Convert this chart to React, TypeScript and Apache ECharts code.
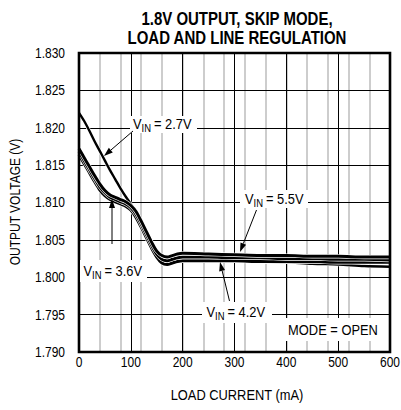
import React, { useEffect, useRef } from "react";
import * as echarts from "echarts";

const loadCurrent = [0, 10, 20, 30, 40, 50, 60, 70, 80, 90, 100, 110, 120, 130, 140, 150, 160, 170, 180, 190, 200, 250, 300, 350, 400, 450, 500, 550, 600];

const vin27 = [1.8220, 1.8209, 1.8196, 1.8182, 1.8169, 1.8156, 1.8143, 1.8131, 1.8119, 1.8108, 1.8098, 1.8087, 1.8073, 1.8058, 1.8044, 1.8031, 1.8023, 1.8021, 1.8022, 1.8024, 1.8025, 1.8024, 1.8023, 1.8021, 1.8020, 1.8018, 1.8017, 1.8015, 1.8014];
const vin36 = [1.8164, 1.8152, 1.8140, 1.8128, 1.8117, 1.8109, 1.8104, 1.8101, 1.8098, 1.8095, 1.8090, 1.8080, 1.8067, 1.8053, 1.8039, 1.8027, 1.8019, 1.8017, 1.8019, 1.8021, 1.8022, 1.8022, 1.8022, 1.8021, 1.8021, 1.8021, 1.8020, 1.8020, 1.8020];
const vin42 = [1.8168, 1.8156, 1.8144, 1.8132, 1.8121, 1.8113, 1.8107, 1.8104, 1.8101, 1.8098, 1.8093, 1.8084, 1.8071, 1.8057, 1.8043, 1.8031, 1.8024, 1.8022, 1.8024, 1.8026, 1.8027, 1.8027, 1.8026, 1.8026, 1.8025, 1.8025, 1.8024, 1.8024, 1.8023];
const vin55 = [1.8172, 1.8160, 1.8148, 1.8136, 1.8125, 1.8116, 1.8110, 1.8107, 1.8104, 1.8101, 1.8096, 1.8088, 1.8075, 1.8061, 1.8047, 1.8035, 1.8029, 1.8027, 1.8029, 1.8031, 1.8032, 1.8031, 1.8030, 1.8029, 1.8029, 1.8028, 1.8028, 1.8027, 1.8027];

const seriesNames = ["VIN = 2.7V", "VIN = 3.6V", "VIN = 4.2V", "VIN = 5.5V"];
const seriesValues = [vin27, vin36, vin42, vin55];
const labelValues = ["2.7V", "3.6V", "4.2V", "5.5V"];

const xTickLabels = [0, 100, 200, 300, 400, 500, 600];
const yTickLabels = [1.79, 1.795, 1.8, 1.805, 1.81, 1.815, 1.82, 1.825, 1.83];

const titleLines = ["1.8V OUTPUT, SKIP MODE,", "LOAD AND LINE REGULATION"];
const xName = "LOAD CURRENT (mA)";
const yName = "OUTPUT VOLTAGE (V)";
const modeNote = "MODE = OPEN";

const FONT = "'Liberation Sans', Arial, sans-serif";

const GRID = { left: 79, top: 53, width: 311, height: 299 };

function txt(x: number, y: number, text: string, size: number, sx: number, align: string, opts: any = {}) {
  return {
    type: "text",
    z: 60,
    x,
    y,
    scaleX: sx,
    rotation: opts.rotation || 0,
    style: {
      x: 0,
      y: 0,
      text,
      font: `${opts.bold ? "bold " : ""}${size}px ${FONT}`,
      fill: "#000",
      textAlign: align,
      textVerticalAlign: "middle",
    },
  };
}

function arrow(x1: number, y1: number, x2: number, y2: number) {
  const dx = x2 - x1;
  const dy = y2 - y1;
  const len = Math.sqrt(dx * dx + dy * dy);
  const ux = dx / len;
  const uy = dy / len;
  const L = 9;
  const W = 3;
  const bx = x2 - ux * L;
  const by = y2 - uy * L;
  return [
    {
      type: "line",
      z: 50,
      shape: { x1, y1, x2: bx, y2: by },
      style: { stroke: "#000", lineWidth: 1 },
    },
    {
      type: "polygon",
      z: 50,
      shape: {
        points: [
          [x2, y2],
          [bx - uy * W, by + ux * W],
          [bx + uy * W, by - ux * W],
        ],
      },
      style: { fill: "#000" },
    },
  ];
}

function vinLabel(x: number, y: number, value: string, bg: number[]) {
  return [
    {
      type: "rect",
      z: 40,
      shape: { x: bg[0], y: bg[1], width: bg[2], height: bg[3] },
      style: { fill: "#fff" },
    },
    txt(x, y, "V", 15, 0.86, "left"),
    txt(x + 8.5, y + 4.5, "IN", 11, 0.86, "left"),
    txt(x + 21, y, "= " + value, 15, 0.86, "left"),
  ];
}

export default function App() {
  const ref = useRef<HTMLDivElement>(null);

  useEffect(() => {
    if (!ref.current) return;
    const chart = echarts.init(ref.current, undefined, { renderer: "svg" });

    const series: any[] = [];
    seriesValues.forEach((vals, i) => {
      const data = loadCurrent.map((x, j) => [x, vals[j]]);
      const w = i === 0 ? 2.4 : 3;
      series.push({
        type: "line",
        name: seriesNames[i] + " outline",
        data,
        xAxisIndex: 1,
        showSymbol: false,
        smooth: 0.3,
        lineStyle: { color: "#fff", width: w + 1.2 },
        z: 10,
        silent: true,
      });
      series.push({
        type: "line",
        name: seriesNames[i],
        data,
        xAxisIndex: 1,
        showSymbol: false,
        smooth: 0.3,
        lineStyle: { color: "#000", width: w },
        z: 10,
      });
    });

    chart.setOption({
      animation: false,
      backgroundColor: "#fff",
      grid: { left: GRID.left, top: GRID.top, width: GRID.width, height: GRID.height, containLabel: false },
      xAxis: [
        {
          type: "value",
          position: "top",
          min: 0,
          max: 600,
          interval: 40,
          z: 0,
          axisLine: { show: false },
          axisTick: { show: false },
          axisLabel: { show: false },
          splitLine: { show: true, lineStyle: { color: "#c8c8c8", width: 1.8 } },
        },
        {
          type: "value",
          position: "bottom",
          min: 0,
          max: 600,
          interval: 100,
          z: 1,
          axisLine: { show: false },
          axisTick: { show: false },
          axisLabel: { show: false },
          splitLine: { show: true, lineStyle: { color: "#000", width: 1 } },
        },
      ],
      yAxis: {
        type: "value",
        min: 1.79,
        max: 1.83,
        interval: 0.005,
        z: 1,
        axisLine: { show: false },
        axisTick: { show: false },
        axisLabel: { show: false },
        splitLine: { show: true, lineStyle: { color: "#000", width: 1 } },
      },
      series,
    });

    const xLabelEls = xTickLabels.map((v) => {
      const px = chart.convertToPixel({ xAxisIndex: 1 }, v) as number;
      return txt(px, 362, String(v), 15, 0.8, "center");
    });
    const yLabelEls = yTickLabels.map((v) => {
      const py = chart.convertToPixel({ yAxisIndex: 0 }, v) as number;
      return txt(65, py, v.toFixed(3), 15, 0.8, "right");
    });

    const graphic: any[] = [
      {
        type: "rect",
        z: 30,
        shape: { x: GRID.left, y: GRID.top, width: GRID.width, height: GRID.height },
        style: { fill: "none", stroke: "#000", lineWidth: 2.6 },
      },
      txt(237, 18.5, titleLines[0], 18.5, 0.81, "center", { bold: true }),
      txt(237, 37.5, titleLines[1], 18.5, 0.81, "center", { bold: true }),
      ...xLabelEls,
      ...yLabelEls,
      txt(237, 395, xName, 15.5, 0.83, "center"),
      txt(15, 202, yName, 15, 0.8, "center", { rotation: Math.PI / 2 }),
      ...vinLabel(133, 124, labelValues[0], [130, 116, 67, 17]),
      ...arrow(133, 131, 104, 156),
      ...vinLabel(245, 198.5, labelValues[3], [240, 190, 68, 18]),
      ...arrow(256.5, 210, 240, 252),
      ...vinLabel(83.5, 270.5, labelValues[1], [80, 260, 67, 22]),
      ...arrow(112, 244, 112, 199),
      ...vinLabel(206.5, 312, labelValues[2], [202, 302, 70, 21]),
      ...arrow(229.5, 301, 220, 262),
      {
        type: "rect",
        z: 40,
        shape: { x: 286, y: 318, width: 96, height: 23 },
        style: { fill: "#fff" },
      },
      txt(333, 329.5, modeNote, 15, 0.86, "center"),
    ];

    chart.setOption({ graphic });

    return () => chart.dispose();
  }, []);

  return <div ref={ref} style={{ position: "fixed", left: 0, top: 0, width: 401, height: 410 }} />;
}
